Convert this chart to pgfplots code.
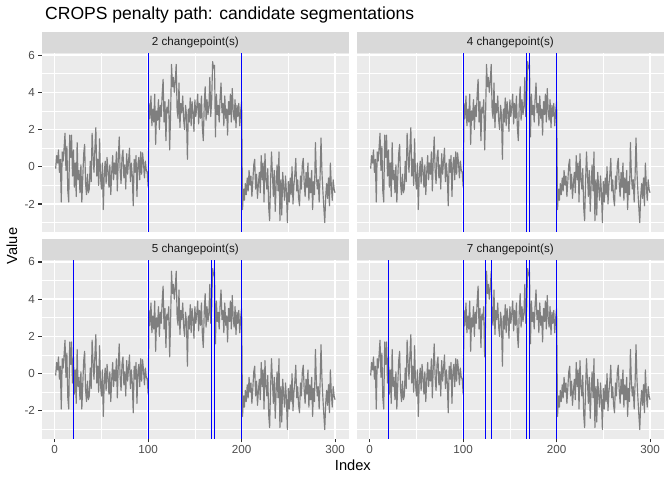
\documentclass[border=0pt]{standalone}
\usepackage{fontspec}
\setmainfont{Liberation Sans}
\usepackage{pgfplots}
\pgfplotsset{compat=1.18}
\usepackage{pgfplotstable}
\definecolor{panelbg}{HTML}{EBEBEB}
\definecolor{stripbg}{HTML}{D9D9D9}
\definecolor{ticklab}{HTML}{4D4D4D}
\definecolor{tickcol}{HTML}{333333}
\definecolor{striptxt}{HTML}{1A1A1A}
\definecolor{seriescol}{HTML}{7F7F7F}
\definecolor{cpblue}{HTML}{0000FF}

\pgfplotstableread[row sep=\\]{
x y\\
1 -0.1\\ 2 0.6\\ 3 0.2\\ 4 0.9\\ 5 -0.3\\ 6 0.4\\ 7 -1.9\\ 8 0.8\\ 9 0.3\\ 10 1.0\\
11 1.8\\ 12 -0.2\\ 13 1.1\\ 14 -1.3\\ 15 -1.9\\ 16 1.7\\ 17 0.5\\ 18 1.7\\ 19 -0.5\\ 20 0.9\\
21 -1.1\\ 22 0.2\\ 23 -1.6\\ 24 1.3\\ 25 -0.7\\ 26 -0.2\\ 27 -1.4\\ 28 0.1\\ 29 -1.9\\ 30 -0.6\\
31 0.7\\ 32 1.2\\ 33 -0.9\\ 34 -1.5\\ 35 -0.4\\ 36 -1.4\\ 37 -1.2\\ 38 0.3\\ 39 -0.8\\ 40 1.8\\
41 0.6\\ 42 -0.3\\ 43 1.0\\ 44 2.1\\ 45 -0.5\\ 46 0.4\\ 47 -1.0\\ 48 1.5\\ 49 -0.6\\ 50 -1.2\\
51 0.2\\ 52 -2.3\\ 53 -0.4\\ 54 0.3\\ 55 -0.9\\ 56 0.5\\ 57 -0.2\\ 58 -1.1\\ 59 0.1\\ 60 -1.5\\
61 -0.3\\ 62 0.6\\ 63 -0.7\\ 64 0.2\\ 65 -0.4\\ 66 0.8\\ 67 -1.3\\ 68 0.4\\ 69 1.6\\ 70 -0.2\\
71 -0.9\\ 72 0.5\\ 73 0.9\\ 74 -0.6\\ 75 0.1\\ 76 -1.2\\ 77 0.7\\ 78 -0.4\\ 79 0.3\\ 80 1.0\\
81 -0.8\\ 82 0.2\\ 83 -0.5\\ 84 -2.1\\ 85 0.4\\ 86 -0.3\\ 87 0.6\\ 88 -1.6\\ 89 0.1\\ 90 0.5\\
91 -0.7\\ 92 0.8\\ 93 -0.4\\ 94 0.75\\ 95 0.2\\ 96 -0.6\\ 97 0.3\\ 98 -0.2\\ 99 -0.3\\ 100 -1.1\\
101 3.4\\ 102 2.6\\ 103 3.8\\ 104 2.2\\ 105 3.1\\ 106 2.4\\ 107 3.9\\ 108 1.2\\ 109 3.0\\ 110 2.5\\
111 3.6\\ 112 2.0\\ 113 3.3\\ 114 2.7\\ 115 3.9\\ 116 4.7\\ 117 2.4\\ 118 3.5\\ 119 1.4\\ 120 3.2\\
121 2.9\\ 122 3.6\\ 123 0.9\\ 124 2.8\\ 125 5.5\\ 126 4.3\\ 127 4.8\\ 128 4.0\\ 129 4.6\\ 130 5.5\\
131 3.0\\ 132 2.6\\ 133 4.5\\ 134 2.1\\ 135 3.4\\ 136 2.9\\ 137 3.8\\ 138 2.5\\ 139 2.0\\ 140 3.3\\
141 2.8\\ 142 0.4\\ 143 3.1\\ 144 2.4\\ 145 3.7\\ 146 2.2\\ 147 3.5\\ 148 2.9\\ 149 1.9\\ 150 3.6\\
151 2.7\\ 152 3.2\\ 153 3.9\\ 154 2.3\\ 155 3.4\\ 156 2.6\\ 157 3.8\\ 158 2.1\\ 159 1.4\\ 160 3.3\\
161 4.3\\ 162 2.5\\ 163 3.6\\ 164 2.8\\ 165 3.2\\ 166 4.8\\ 167 2.7\\ 168 3.6\\ 169 5.65\\ 170 5.3\\
171 5.45\\ 172 1.6\\ 173 3.9\\ 174 2.8\\ 175 3.3\\ 176 2.4\\ 177 3.7\\ 178 4.5\\ 179 2.9\\ 180 3.4\\
181 2.2\\ 182 3.8\\ 183 2.6\\ 184 3.1\\ 185 1.7\\ 186 3.5\\ 187 2.8\\ 188 3.9\\ 189 2.4\\ 190 4.2\\
191 3.0\\ 192 2.5\\ 193 3.6\\ 194 2.1\\ 195 3.3\\ 196 2.7\\ 197 3.4\\ 198 2.2\\ 199 3.0\\ 200 3.5\\
201 -2.3\\ 202 -1.2\\ 203 -1.8\\ 204 -0.9\\ 205 -1.5\\ 206 -0.6\\ 207 -1.3\\ 208 -0.2\\ 209 -1.0\\ 210 -0.5\\
211 -1.6\\ 212 -0.8\\ 213 0.1\\ 214 0.4\\ 215 -1.2\\ 216 -0.4\\ 217 -1.7\\ 218 -0.9\\ 219 -0.3\\ 220 -1.4\\
221 0.6\\ 222 -0.7\\ 223 0.2\\ 224 -1.9\\ 225 0.7\\ 226 -0.6\\ 227 -1.2\\ 228 -0.1\\ 229 -2.2\\ 230 -2.9\\
231 -0.8\\ 232 0.8\\ 233 -0.4\\ 234 -1.6\\ 235 -0.2\\ 236 -2.4\\ 237 -0.9\\ 238 0.1\\ 239 -1.3\\ 240 0.8\\
241 -2.9\\ 242 -0.7\\ 243 -2.6\\ 244 -0.3\\ 245 -1.1\\ 246 -1.8\\ 247 -0.5\\ 248 -1.4\\ 249 -3.0\\ 250 -0.8\\
251 -1.9\\ 252 -0.6\\ 253 -1.5\\ 254 0.0\\ 255 -2.0\\ 256 -1.0\\ 257 -0.4\\ 258 0.45\\ 259 -1.3\\ 260 -0.7\\
261 -1.7\\ 262 -2.1\\ 263 -0.5\\ 264 -1.2\\ 265 0.1\\ 266 0.45\\ 267 -0.9\\ 268 -1.6\\ 269 -0.3\\ 270 -1.1\\
271 0.2\\ 272 -1.8\\ 273 -0.6\\ 274 -1.4\\ 275 -0.2\\ 276 -2.3\\ 277 -0.8\\ 278 -1.5\\ 279 1.3\\ 280 -0.4\\
281 -1.2\\ 282 -0.7\\ 283 -1.9\\ 284 -0.5\\ 285 1.55\\ 286 -0.3\\ 287 -1.3\\ 288 -2.2\\ 289 -3.0\\ 290 -1.6\\
291 -0.9\\ 292 -1.7\\ 293 -0.6\\ 294 -2.1\\ 295 0.2\\ 296 -1.0\\ 297 -1.8\\ 298 -0.7\\ 299 -1.2\\ 300 -1.4\\
}\dataseries

\pgfplotsset{
  panel/.style={
    scale only axis, width=307.3bp, height=178.3bp, anchor=south west,
    xmin=-13.95, xmax=314.95, ymin=-3.49, ymax=6.09,
    axis background/.style={fill=panelbg},
    axis line style={draw=none},
    grid=both,
    major grid style={white, line width=1.42bp},
    minor grid style={white, line width=0.71bp},
    xtick={0,100,200,300}, minor xtick={50,150,250},
    ytick={-2,0,2,4,6}, minor ytick={-3,-1,1,3,5},
    tick align=outside, tick pos=left,
    major tick length=3.67bp, minor tick length=0pt,
    tick style={tickcol, line width=1.07bp},
    ticklabel style={font=\fontsize{11.7}{12}\selectfont, text=ticklab},
    xticklabel style={inner sep=2.9bp},
    yticklabel style={inner sep=2.9bp},
    /pgf/number format/assume math mode=true,
  },
  noxlab/.style={xticklabels={}, xtick style={draw=none}},
  noylab/.style={yticklabels={}, ytick style={draw=none}},
  serie/.style={draw=seriescol, line width=1.15bp, line join=round},
  cp/.style={draw=cpblue, line width=1.15bp},
}

\begin{document}
\begin{tikzpicture}
\useasboundingbox (0bp,0bp) rectangle (672bp,480bp);

% panel 1
\begin{axis}[panel, noxlab, at={(41.7bp,248.3bp)}]
\addplot[serie] table[x=x, y=y] {\dataseries};
\addplot[cp] coordinates {(100,-3.49) (100,6.09)};
\addplot[cp] coordinates {(200,-3.49) (200,6.09)};
\end{axis}
% panel 2
\begin{axis}[panel, noxlab, noylab, at={(356.7bp,248.3bp)}]
\addplot[serie] table[x=x, y=y] {\dataseries};
\addplot[cp] coordinates {(100,-3.49) (100,6.09)};
\addplot[cp] coordinates {(168,-3.49) (168,6.09)};
\addplot[cp] coordinates {(171,-3.49) (171,6.09)};
\addplot[cp] coordinates {(200,-3.49) (200,6.09)};
\end{axis}
% panel 3
\begin{axis}[panel, at={(41.7bp,41.4bp)}]
\addplot[serie] table[x=x, y=y] {\dataseries};
\addplot[cp] coordinates {(20,-3.49) (20,6.09)};
\addplot[cp] coordinates {(100,-3.49) (100,6.09)};
\addplot[cp] coordinates {(168,-3.49) (168,6.09)};
\addplot[cp] coordinates {(171,-3.49) (171,6.09)};
\addplot[cp] coordinates {(200,-3.49) (200,6.09)};
\end{axis}
% panel 4
\begin{axis}[panel, noylab, at={(356.7bp,41.4bp)}]
\addplot[serie] table[x=x, y=y] {\dataseries};
\addplot[cp] coordinates {(20,-3.49) (20,6.09)};
\addplot[cp] coordinates {(100,-3.49) (100,6.09)};
\addplot[cp] coordinates {(124,-3.49) (124,6.09)};
\addplot[cp] coordinates {(130,-3.49) (130,6.09)};
\addplot[cp] coordinates {(168,-3.49) (168,6.09)};
\addplot[cp] coordinates {(171,-3.49) (171,6.09)};
\addplot[cp] coordinates {(200,-3.49) (200,6.09)};
\end{axis}

% strips
\fill[stripbg] (41.7bp,426.6bp) rectangle (349bp,447.7bp);
\fill[stripbg] (356.7bp,426.6bp) rectangle (664bp,447.7bp);
\fill[stripbg] (41.7bp,219.7bp) rectangle (349bp,240.8bp);
\fill[stripbg] (356.7bp,219.7bp) rectangle (664bp,240.8bp);
\begin{scope}[every node/.style={font=\fontsize{11.7}{12}\selectfont, text=striptxt}]
\node at (195.35bp,437.15bp) {2 changepoint(s)};
\node at (510.35bp,437.15bp) {4 changepoint(s)};
\node at (195.35bp,230.25bp) {5 changepoint(s)};
\node at (510.35bp,230.25bp) {7 changepoint(s)};
\end{scope}

% titles
\node[anchor=base west, font=\fontsize{17.6}{20}\selectfont] at (41.7bp,460bp) {CROPS penalty path: candidate segmentations};
\node[anchor=base, font=\fontsize{14.7}{16}\selectfont] at (352.9bp,10bp) {Index};
\node[anchor=base, rotate=90, font=\fontsize{14.7}{16}\selectfont] at (17bp,234bp) {Value};
\end{tikzpicture}
\end{document}
